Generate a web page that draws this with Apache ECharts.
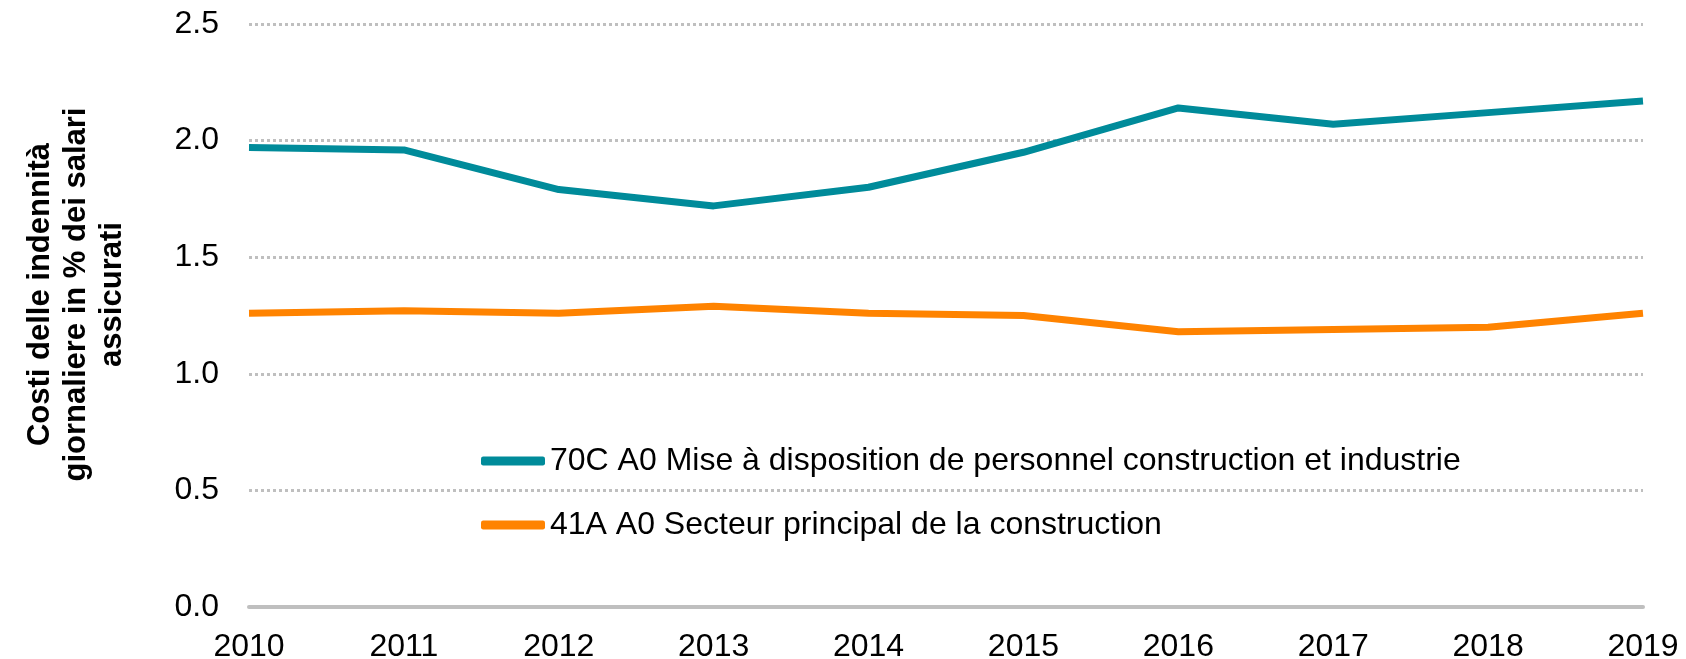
<!DOCTYPE html>
<html>
<head>
<meta charset="utf-8">
<script src="https://cdn.jsdelivr.net/npm/echarts@6/dist/echarts.min.js"></script>
<style>
  html, body { margin: 0; padding: 0; background: #fff; }
  #chart { width: 1686px; height: 659px; }
</style>
</head>
<body>
<div id="chart"></div>
<script>
// values
var years = ['2010', '2011', '2012', '2013', '2014', '2015', '2016', '2017', '2018', '2019']
var personnel = [1.97, 1.96, 1.79, 1.72, 1.80, 1.95, 2.14, 2.07, 2.12, 2.17]
var construction = [1.26, 1.27, 1.26, 1.29, 1.26, 1.25, 1.18, 1.19, 1.20, 1.26]
var seriesNames = [
  '70C A0 Mise à disposition de personnel construction et industrie',
  '41A A0 Secteur principal de la construction'
]

var chart = echarts.init(document.getElementById('chart'))
var font = 'Liberation Sans, Arial, sans-serif'

chart.setOption({
  animation: false,
  textStyle: { fontFamily: font },
  grid: {
    left: 249,
    right: 43,
    top: 24,
    bottom: 52,
    outerBoundsMode: 'none'
  },
  legend: {
    orient: 'vertical',
    left: 476,
    top: 440,
    itemGap: 32,
    itemWidth: 64,
    itemHeight: 9,
    icon: 'roundRect',
    textStyle: { fontSize: 32, color: '#000', fontFamily: font },
    data: seriesNames
  },
  xAxis: {
    type: 'category',
    data: years,
    boundaryGap: false,
    axisTick: { show: false },
    axisLine: { lineStyle: { color: '#bfbfbf', width: 4 } },
    axisLabel: { color: '#000', fontSize: 32, margin: 24, fontFamily: font }
  },
  yAxis: {
    type: 'value',
    min: 0,
    max: 2.5,
    interval: 0.5,
    name: 'Costi delle indennità\ngiornaliere in % dei salari\nassicurati',
    nameLocation: 'middle',
    nameGap: 119,
    nameRotate: 90,
    nameTextStyle: {
      fontSize: 31,
      fontWeight: 'bold',
      color: '#000',
      lineHeight: 36,
      fontFamily: font,
      padding: [0, 0, 0, 42]
    },
    axisLine: { show: false },
    axisTick: { show: false },
    axisLabel: {
      color: '#000',
      fontSize: 32,
      margin: 30,
      fontFamily: font,
      formatter: function (v) { return v.toFixed(1) }
    },
    splitLine: { lineStyle: { color: '#bfbfbf', width: 3, type: [3, 3] } }
  },
  series: [
    {
      name: seriesNames[0],
      type: 'line',
      data: personnel,
      symbol: 'none',
      itemStyle: { color: '#008b9a' },
      lineStyle: { color: '#008b9a', width: 7 }
    },
    {
      name: seriesNames[1],
      type: 'line',
      data: construction,
      symbol: 'none',
      itemStyle: { color: '#ff8300' },
      lineStyle: { color: '#ff8300', width: 7 }
    }
  ]
})
</script>
</body>
</html>
